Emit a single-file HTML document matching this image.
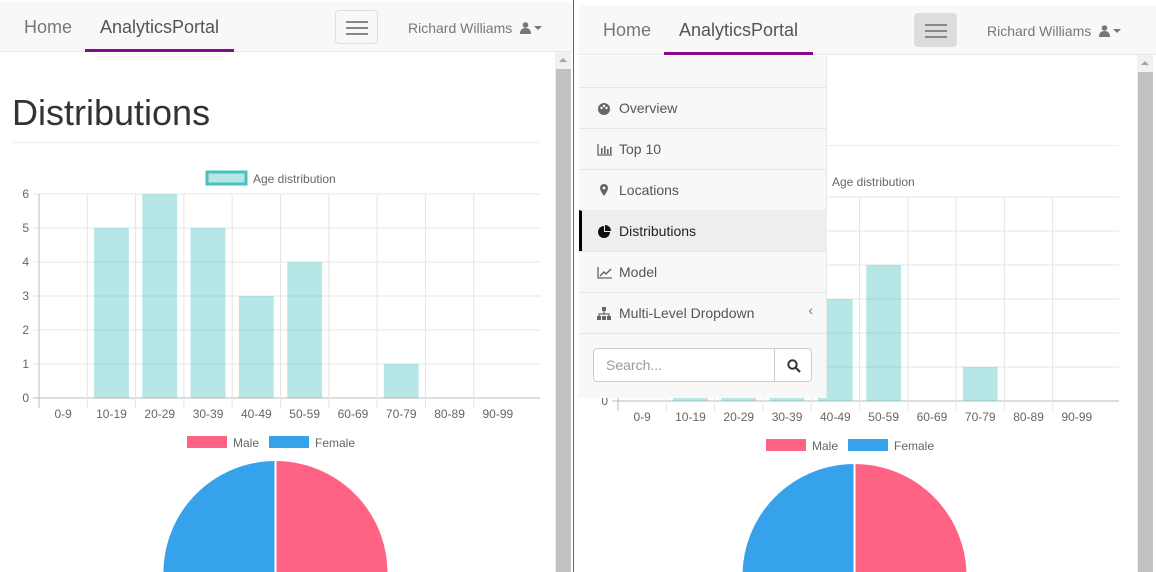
<!DOCTYPE html>
<html><head><meta charset="utf-8">
<style>
*{box-sizing:border-box;margin:0;padding:0}
body{width:1156px;height:572px;overflow:hidden;background:#fff;font-family:"Liberation Sans",Arial,sans-serif;position:relative}
.pane{position:absolute;overflow:hidden;background:#fff}
.nav{position:absolute;left:0;top:0;height:50px;background:#f8f8f8;border-bottom:1px solid #e7e7e7;width:100%}
.nav .home{position:absolute;left:24px;top:15px;font-size:18px;color:#777}
.nav .brand{position:absolute;left:100px;top:15px;font-size:18px;color:#555}
.nav .uline{position:absolute;left:85px;width:149px;top:47px;height:3px;background:#8b0a8b}
.nav .burger{position:absolute;left:335px;top:8px;width:43px;height:34px;border:1px solid #ddd;border-radius:4px}
.nav .burger i{position:absolute;left:10px;width:22px;height:2px;background:#888}
.nav .user{position:absolute;left:408px;top:18px;font-size:14px;color:#777}
.sb{position:absolute;top:50px;width:16px;bottom:0;background:#f1f1f1}
.sb .th{position:absolute;left:1px;right:0;top:17px;bottom:0;background:#c1c1c1}
.sb .ar{position:absolute;left:4px;top:6px;width:0;height:0;border-left:4px solid transparent;border-right:4px solid transparent;border-bottom:4px solid #a3a3a3}
.title{position:absolute;left:12px;top:90px;font-size:36px;color:#333}
.hr{position:absolute;left:12px;top:140px;width:528px;height:1px;background:#eee}
.menu{position:absolute;left:0;top:51px;width:248px;height:342px;background:#f8f8f8;border-right:1px solid #e7e7e7}
.mi{position:absolute;left:0;width:248px;height:41px;border-top:1px solid #e7e7e7;font-size:14px;color:#555;padding:12px 0 0 40px}
.mi svg{position:absolute;left:18px;top:13px}
</style></head><body>
<div style="position:absolute;left:573px;top:0;width:1px;height:572px;background:#2a6db0"></div>
<div id="left" class="pane" style="left:0;top:2px;width:572px;height:570px"></div>
<div id="right" class="pane" style="left:579px;top:5px;width:577px;height:567px"></div>
<script>
const categories=["0-9","10-19","20-29","30-39","40-49","50-59","60-69","70-79","80-89","90-99"];
const ageCounts=[0,5,6,5,3,4,0,1,0,0];
const yTicks=[0,1,2,3,4,5,6];
const genderLabels=["Male","Female"];
const genderValues=[1,1];

function buildPane(root,sbLeft,open){
  root.innerHTML=`
  <div class="nav">
    <span class="home">Home</span>
    <span class="brand">AnalyticsPortal</span>
    <div class="uline"></div>
    <div class="burger" style="${open?'background:#ddd;border-color:#ddd':''}"><i style="top:10px"></i><i style="top:16px"></i><i style="top:22px"></i></div>
    <span class="user">Richard Williams <svg width="24" height="12" viewBox="0 0 24 12" style="margin-left:4px;vertical-align:-1px"><circle cx="5.5" cy="3" r="2.8" fill="#777"/><path d="M0 12 Q0 6 5.5 6 Q11 6 11 12Z" fill="#777"/><path d="M14 4 L22 4 L18 8Z" fill="#777"/></svg></span>
  </div>
  <div class="sb" style="left:${sbLeft}px"><div class="ar"></div><div class="th"></div></div>
  <div class="title">Distributions</div>
  <div class="hr"></div>
  <svg class="chart" width="555" height="570" style="position:absolute;left:0;top:0"></svg>`;
  const svg=root.querySelector('svg.chart');
  const NS="http://www.w3.org/2000/svg";
  function el(t,a,p){const e=document.createElementNS(NS,t);for(const k in a)e.setAttribute(k,a[k]);(p||svg).appendChild(e);return e;}
  const x0=39,x1=540,yTop=192,yBot=396,yMax=6,bw=48.3;
  const ys=v=>yBot-(v/yMax)*(yBot-yTop);
  const xs=i=>x0+i*bw;
  let g=el('g',{});
  
  
  el('rect',{x:207,y:170,width:39,height:12,fill:'rgba(75,192,192,0.4)',stroke:'#4bc0c0','stroke-width':3},g);
  let t=el('text',{x:253,y:181,'font-size':12,fill:'#666','font-family':'Liberation Sans'},g);t.textContent='Age distribution';
  yTicks.forEach(v=>{
    const l=el('line',{x1:x0-6,x2:x1,y1:ys(v),y2:ys(v),stroke:v===0?'#bbb':'#e5e5e5'});
    
    
    const tx=el('text',{x:x0-10,y:ys(v)+4,'font-size':12,fill:'#666','text-anchor':'end','font-family':'Liberation Sans'});
    
    
    tx.textContent=v;
  });
  for(let i=0;i<categories.length;i++){
    el('line',{x1:xs(i),x2:xs(i),y1:yTop,y2:yBot+10,stroke:i===0?'#bbb':'#e5e5e5'});
  }
  categories.forEach((c,i)=>{
    const r=el('rect',{x:xs(i)+bw*0.14,y:ys(ageCounts[i]),width:bw*0.72,height:yBot-ys(ageCounts[i]),fill:'rgba(75,192,192,0.4)'});
    
    
    const tx=el('text',{x:xs(i)+bw/2,y:yBot+20,'font-size':12,fill:'#666','text-anchor':'middle','font-family':'Liberation Sans'});
    
    
    tx.textContent=c;
  });
  const cols=['#ff6384','#36a2eb'];
  const lx=[187,269];
  genderLabels.forEach((lab,i)=>{
    const r=el('rect',{x:lx[i],y:434,width:40,height:12,fill:cols[i]});
    
    
    const tx=el('text',{x:lx[i]+46,y:445,'font-size':12,fill:'#666','font-family':'Liberation Sans'});tx.textContent=lab;
  });
  const cx=275.5,cy=571,R=113;
  const tot=genderValues.reduce((a,b)=>a+b,0);
  let a=-Math.PI/2;
  genderValues.forEach((v,i)=>{
    const a2=a+v/tot*2*Math.PI;
    const p=el('path',{d:`M${cx},${cy} L${cx+R*Math.cos(a)},${cy+R*Math.sin(a)} A${R},${R} 0 ${a2-a>Math.PI?1:0} 1 ${cx+R*Math.cos(a2)},${cy+R*Math.sin(a2)} Z`,fill:cols[i],stroke:'#fff','stroke-width':2});
    
    
    a=a2;
  });
}
buildPane(document.getElementById('left'),555,false);
const right=document.getElementById('right');
buildPane(right,558,true);
const icons={
 "Overview":'<circle cx="7" cy="8" r="6" fill="#666"/><circle cx="4.5" cy="7" r="1.2" fill="#f8f8f8"/><circle cx="9.5" cy="7" r="1.2" fill="#f8f8f8"/><circle cx="7" cy="5" r="1.2" fill="#f8f8f8"/>',
 "Top 10":'<path d="M1 2V13H15" stroke="#666" fill="none" stroke-width="1.3"/><rect x="4" y="6" width="1.6" height="6" fill="#666"/><rect x="7" y="4" width="1.6" height="8" fill="#666"/><rect x="10" y="7" width="1.6" height="5" fill="#666"/><rect x="13" y="5" width="1.6" height="7" fill="#666"/>',
 "Locations":'<path d="M7 1a4 4 0 0 1 4 4c0 3-4 8-4 8S3 8 3 5a4 4 0 0 1 4-4z" fill="#666"/><circle cx="7" cy="5" r="1.4" fill="#f8f8f8"/>',
 "Distributions":'<path d="M7 2a6 6 0 1 0 6 6H7z" fill="#111"/><path d="M8 1v6h6a6 6 0 0 0-6-6z" fill="#111"/>',
 "Model":'<path d="M1 2V13H15" stroke="#666" fill="none" stroke-width="1.3"/><path d="M3 11L7 7L9 9L14 4" stroke="#666" fill="none" stroke-width="1.5"/>',
 "Multi-Level Dropdown":'<rect x="5" y="1" width="4" height="4" fill="#666"/><rect x="0" y="10" width="4" height="4" fill="#666"/><rect x="5" y="10" width="4" height="4" fill="#666"/><rect x="10" y="10" width="4" height="4" fill="#666"/><path d="M7 5V8M2 10V8H12V10" stroke="#666" fill="none" stroke-width="1.2"/>'
};
const items=["Overview","Top 10","Locations","Distributions","Model","Multi-Level Dropdown"];
const menu=document.createElement('div');
menu.className='menu';


let html='';
items.forEach((it,i)=>{
  const act=it==='Distributions';
  html+=`<div class="mi" style="top:${31+i*41}px;${act?'background:#eee;border-left:3px solid #000;padding-left:37px;color:#222':''}"><svg width="16" height="15" style="${act?'left:15px':''}">${icons[it]}</svg>${it}${i===5?'<span style="position:absolute;right:14px;top:9px;color:#777">‹</span>':''}</div>`;
});
html+=`<div style="position:absolute;left:0;top:277px;width:248px;border-top:1px solid #e7e7e7"></div>
<div style="position:absolute;left:14px;top:292px;width:182px;height:34px;border:1px solid #ccc;border-radius:4px 0 0 4px;background:#fff;font-size:14px;color:#999;padding:8px 12px">Search...</div>
<div style="position:absolute;left:195px;top:292px;width:38px;height:34px;border:1px solid #ccc;border-radius:0 4px 4px 0;background:#fff"><svg width="14" height="14" style="position:absolute;left:12px;top:10px"><circle cx="5.5" cy="5.5" r="4.2" stroke="#333" stroke-width="2" fill="none"/><line x1="8.5" y1="8.5" x2="13" y2="13" stroke="#333" stroke-width="2.2"/></svg></div>`;
menu.innerHTML=html;
right.appendChild(menu);
</script>
</body></html>
